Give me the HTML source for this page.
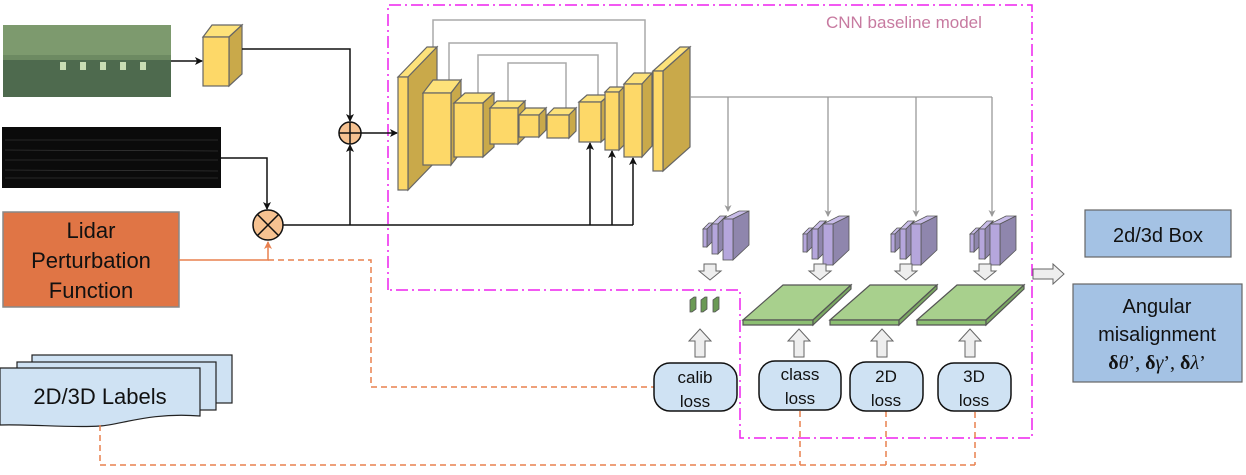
<!DOCTYPE html>
<html><head><meta charset="utf-8"><style>
html,body{margin:0;padding:0;background:#fff;}
svg{display:block;font-family:"Liberation Sans",Arial,sans-serif;}
</style></head><body>
<svg width="1246" height="475" viewBox="0 0 1246 475" xmlns="http://www.w3.org/2000/svg">
<defs>
<marker id="ab" markerWidth="8" markerHeight="8" refX="7" refY="4" orient="auto" markerUnits="userSpaceOnUse"><path d="M0,0 L8,4 L0,8 L2,4 z" fill="#111"/></marker>
<marker id="ag" markerWidth="7" markerHeight="7" refX="6" refY="3.5" orient="auto" markerUnits="userSpaceOnUse"><path d="M0,0 L7,3.5 L0,7 L2,3.5 z" fill="#999"/></marker>
<marker id="ao" markerWidth="8" markerHeight="8" refX="7" refY="4" orient="auto" markerUnits="userSpaceOnUse"><path d="M0,0 L8,4 L0,8 L2,4 z" fill="#e8804f"/></marker>
<g id="purp">
 <polygon points="703,229 709,223 713,223 707,229" fill="#c8bce8" stroke="#555" stroke-width="0.8"/>
 <polygon points="707,229 713,223 713,241 707,247" fill="#8f86ad" stroke="#555" stroke-width="0.8"/>
 <rect x="703" y="229" width="4" height="18" fill="#b5a6dc" stroke="#555" stroke-width="0.8"/>
 <polygon points="712,224 720,216 726,216 718,224" fill="#c8bce8" stroke="#555" stroke-width="0.8"/>
 <polygon points="718,224 726,216 726,246 718,254" fill="#8f86ad" stroke="#555" stroke-width="0.8"/>
 <rect x="712" y="224" width="6" height="30" fill="#b5a6dc" stroke="#555" stroke-width="0.8"/>
 <polygon points="723,219 739,211 749,211 733,219" fill="#c8bce8" stroke="#555" stroke-width="0.8"/>
 <polygon points="733,219 749,211 749,245 733,260" fill="#8f86ad" stroke="#555" stroke-width="0.8"/>
 <rect x="723" y="219" width="10" height="41" fill="#b5a6dc" stroke="#555" stroke-width="0.8"/>
</g>
<path id="darr" d="M-6,0 h12 v7 h5 l-11,9 l-11,-9 h5 z" fill="#eee" stroke="#666" stroke-width="1"/>
<path id="uarr" d="M-5,28 v-16 h-6 l11,-12 l11,12 h-6 v16 z" fill="#eee" stroke="#666" stroke-width="1"/>
</defs>

<!-- magenta boundary -->
<path d="M388,290 V5 H1032 V438 H740 V290 Z" fill="none" stroke="#ee22ee" stroke-width="1.5" stroke-dasharray="12,4,2,4"/>
<text x="826" y="28" font-size="17" fill="#c77aa0">CNN baseline model</text>

<!-- camera image -->
<rect x="3" y="25" width="168" height="72" fill="#6d8a62"/>
<rect x="3" y="25" width="168" height="30" fill="#7d9a6e"/>
<rect x="3" y="60" width="168" height="37" fill="#4e6a4e"/>
<g fill="#c8dcb4"><rect x="60" y="62" width="6" height="8"/><rect x="80" y="62" width="6" height="8"/><rect x="100" y="62" width="6" height="8"/><rect x="120" y="62" width="6" height="8"/><rect x="140" y="62" width="6" height="8"/></g>
<!-- lidar image -->
<rect x="2" y="127" width="219" height="61" fill="#0b0b0b"/>
<g stroke="#444" stroke-width="0.6"><line x1="5" y1="140" x2="218" y2="140"/><line x1="5" y1="150" x2="218" y2="151"/><line x1="5" y1="160" x2="218" y2="160"/><line x1="5" y1="170" x2="218" y2="171"/><line x1="5" y1="178" x2="218" y2="178"/></g>

<!-- small yellow block -->
<polygon points="203,37 212,25 242,25 229,37" fill="#fde27a" stroke="#666" stroke-width="1.2"/>
<polygon points="229,37 242,25 242,74 229,86" fill="#c9a94a" stroke="#666" stroke-width="1.2"/>
<rect x="203" y="37" width="26" height="49" fill="#fdd868" stroke="#666" stroke-width="1.2"/>
<line x1="171" y1="61" x2="202" y2="61" stroke="#111" stroke-width="1.5" marker-end="url(#ab)"/>
<polyline points="242,49 350,49 350,121" fill="none" stroke="#111" stroke-width="1.5" marker-end="url(#ab)"/>
<polyline points="221,158 267,158 267,209" fill="none" stroke="#111" stroke-width="1.5" marker-end="url(#ab)"/>
<line x1="350" y1="225" x2="350" y2="145" stroke="#111" stroke-width="1.5" marker-end="url(#ab)"/>
<line x1="283" y1="225" x2="633" y2="225" stroke="#111" stroke-width="1.5"/>
<line x1="361" y1="133" x2="397" y2="133" stroke="#111" stroke-width="1.5" marker-end="url(#ab)"/>
<line x1="590" y1="225" x2="590" y2="143" stroke="#111" stroke-width="1.5" marker-end="url(#ab)"/>
<line x1="612" y1="225" x2="612" y2="151" stroke="#111" stroke-width="1.5" marker-end="url(#ab)"/>
<line x1="633" y1="225" x2="633" y2="158" stroke="#111" stroke-width="1.5" marker-end="url(#ab)"/>
<!-- circles -->
<circle cx="350" cy="133" r="11" fill="#f6c291" stroke="#111" stroke-width="1.5"/>
<path d="M339,133 H361 M350,122 V144" stroke="#111" stroke-width="1.5"/>
<circle cx="268" cy="225" r="15" fill="#f6c291" stroke="#111" stroke-width="1.5"/>
<path d="M257.4,214.4 L278.6,235.6 M278.6,214.4 L257.4,235.6" stroke="#111" stroke-width="1.5"/>

<!-- lidar perturbation box -->
<rect x="3" y="212" width="176" height="95" fill="#e07545" stroke="#888" stroke-width="1.5"/>
<text x="91" y="238" font-size="22" text-anchor="middle" fill="#111">Lidar</text>
<text x="91" y="268" font-size="22" text-anchor="middle" fill="#111">Perturbation</text>
<text x="91" y="298" font-size="22" text-anchor="middle" fill="#111">Function</text>
<polyline points="179,260 268,260 268,242" fill="none" stroke="#e8804f" stroke-width="1.5" marker-end="url(#ao)"/>
<polyline points="268,260 371,260 371,387 655,387" fill="none" stroke="#e8804f" stroke-width="1.5" stroke-dasharray="6,4"/>

<!-- labels docs -->
<rect x="32" y="355" width="200" height="48" fill="#cfe2f3" stroke="#222" stroke-width="1.2"/>
<rect x="17" y="362" width="199" height="48" fill="#cfe2f3" stroke="#222" stroke-width="1.2"/>
<path d="M0,368 H200 V416 C150,412 120,425 100,426 C70,428 30,424 0,425 Z" fill="#cfe2f3" stroke="#222" stroke-width="1.2"/>
<text x="100" y="404" font-size="22" text-anchor="middle" fill="#111">2D/3D Labels</text>
<polyline points="100,425 100,465 975,465" fill="none" stroke="#e8804f" stroke-width="1.5" stroke-dasharray="6,4"/>
<line x1="800" y1="411" x2="800" y2="465" stroke="#e8804f" stroke-width="1.5" stroke-dasharray="6,4"/>
<line x1="886" y1="411" x2="886" y2="465" stroke="#e8804f" stroke-width="1.5" stroke-dasharray="6,4"/>
<line x1="975" y1="412" x2="975" y2="465" stroke="#e8804f" stroke-width="1.5" stroke-dasharray="6,4"/>

<!-- skip connections -->
<g fill="none" stroke="#aaa" stroke-width="1.5">
<polyline points="433,47 433,20 645,20 645,73"/>
<polyline points="449,80 449,43 617,43 617,87"/>
<polyline points="478,93 478,55 598,55 598,95"/>
<polyline points="508,101 508,63 566,63 566,108"/>
</g>

<!-- unet blocks -->
<g stroke="#666" stroke-width="1.2">
<polygon points="398,77 427,47 437,47 408,77" fill="#fde27a"/><polygon points="408,77 437,47 437,160 408,190" fill="#c9a94a"/><rect x="398" y="77" width="10" height="113" fill="#fdd868"/>
<polygon points="423,93 433,80 461,80 451,93" fill="#fde27a"/><polygon points="451,93 461,80 461,152 451,165" fill="#c9a94a"/><rect x="423" y="93" width="28" height="72" fill="#fdd868"/>
<polygon points="454,103 465,93 494,93 483,103" fill="#fde27a"/><polygon points="483,103 494,93 494,147 483,157" fill="#c9a94a"/><rect x="454" y="103" width="29" height="54" fill="#fdd868"/>
<polygon points="490,108 497,101 525,101 518,108" fill="#fde27a"/><polygon points="518,108 525,101 525,137 518,144" fill="#c9a94a"/><rect x="490" y="108" width="28" height="36" fill="#fdd868"/>
<polygon points="519,115 526,108 546,108 539,115" fill="#fde27a"/><polygon points="539,115 546,108 546,130 539,137" fill="#c9a94a"/><rect x="519" y="115" width="20" height="22" fill="#fdd868"/>
<polygon points="547,115 554,108 576,108 569,115" fill="#fde27a"/><polygon points="569,115 576,108 576,131 569,138" fill="#c9a94a"/><rect x="547" y="115" width="22" height="23" fill="#fdd868"/>
<polygon points="579,102 587,95 609,95 601,102" fill="#fde27a"/><polygon points="601,102 609,95 609,135 601,142" fill="#c9a94a"/><rect x="579" y="102" width="22" height="40" fill="#fdd868"/>
<polygon points="605,92 610,87 624,87 619,92" fill="#fde27a"/><polygon points="619,92 624,87 624,145 619,150" fill="#c9a94a"/><rect x="605" y="92" width="14" height="58" fill="#fdd868"/>
<polygon points="624,84 634,73 652,73 642,84" fill="#fde27a"/><polygon points="642,84 652,73 652,146 642,157" fill="#c9a94a"/><rect x="624" y="84" width="18" height="73" fill="#fdd868"/>
<polygon points="653,71 680,47 690,47 663,71" fill="#fde27a"/><polygon points="663,71 690,47 690,147 663,171" fill="#c9a94a"/><rect x="653" y="71" width="10" height="100" fill="#fdd868"/>
</g>
<!-- head connectors -->
<g fill="none" stroke="#999" stroke-width="1.3">
<line x1="690" y1="97" x2="992" y2="97"/>
<line x1="728" y1="97" x2="728" y2="211" marker-end="url(#ag)"/>
<line x1="828" y1="97" x2="828" y2="216" marker-end="url(#ag)"/>
<line x1="916" y1="97" x2="916" y2="216" marker-end="url(#ag)"/>
<line x1="992" y1="97" x2="992" y2="216" marker-end="url(#ag)"/>
</g>
<use href="#purp"/>
<use href="#purp" transform="translate(100,5)"/>
<use href="#purp" transform="translate(188,5)"/>
<use href="#purp" transform="translate(267,5)"/>

<use href="#darr" transform="translate(710,264)"/>
<use href="#darr" transform="translate(820,264)"/>
<use href="#darr" transform="translate(906,264)"/>
<use href="#darr" transform="translate(985,264)"/>

<!-- green plates -->
<g stroke="#555" stroke-width="1.2">
<polygon points="743,320 783,285 851,285 813,320" fill="#a8d08d"/><polygon points="743,320 813,320 813,325 743,325" fill="#8cbf72"/><polygon points="813,320 851,285 851,289 813,325" fill="#7aa862"/>
<polygon points="830,320 870,285 937,285 899,320" fill="#a8d08d"/><polygon points="830,320 899,320 899,325 830,325" fill="#8cbf72"/><polygon points="899,320 937,285 937,289 899,325" fill="#7aa862"/>
<polygon points="917,320 957,285 1024,285 986,320" fill="#a8d08d"/><polygon points="917,320 986,320 986,325 917,325" fill="#8cbf72"/><polygon points="986,320 1024,285 1024,289 986,325" fill="#7aa862"/>
</g>
<g stroke="#555" stroke-width="0.8" fill="#6b9a55">
<polygon points="690,300 694,297 696,297 696,309 692,312 690,312"/>
<polygon points="701,300 705,297 707,297 707,309 703,312 701,312"/>
<polygon points="713,300 717,297 719,297 719,309 715,312 713,312"/>
</g>

<use href="#uarr" transform="translate(700,329)"/>
<use href="#uarr" transform="translate(799,329)"/>
<use href="#uarr" transform="translate(882,329)"/>
<use href="#uarr" transform="translate(970,329)"/>

<!-- loss boxes -->
<g fill="#cfe2f3" stroke="#111" stroke-width="1.5">
<rect x="654" y="363" width="83" height="48" rx="16"/>
<rect x="759" y="361" width="82" height="49" rx="16"/>
<rect x="850" y="362" width="73" height="49" rx="16"/>
<rect x="938" y="363" width="73" height="48" rx="16"/>
</g>
<g font-size="17" text-anchor="middle" fill="#111">
<text x="695" y="383">calib</text><text x="695" y="407">loss</text>
<text x="800" y="380">class</text><text x="800" y="404">loss</text>
<text x="886" y="382">2D</text><text x="886" y="406">loss</text>
<text x="974" y="382">3D</text><text x="974" y="406">loss</text>
</g>

<!-- output arrow -->
<path d="M1033,269 h20 v-5 l11,10 l-11,10 v-5 h-20 z" fill="#eee" stroke="#666" stroke-width="1"/>

<!-- right boxes -->
<rect x="1085" y="210" width="146" height="47" fill="#a4c2e4" stroke="#666" stroke-width="1.2"/>
<text x="1158" y="242" font-size="20" text-anchor="middle" fill="#111">2d/3d Box</text>
<rect x="1073" y="284" width="169" height="98" fill="#a4c2e4" stroke="#666" stroke-width="1.2"/>
<text x="1157" y="313" font-size="20" text-anchor="middle" fill="#111">Angular</text>
<text x="1157" y="341" font-size="20" text-anchor="middle" fill="#111">misalignment</text>
<text x="1157" y="369" font-size="20" text-anchor="middle" fill="#111" font-family="Liberation Serif, serif"><tspan font-weight="bold">δ</tspan><tspan font-style="italic">θ</tspan>’, <tspan font-weight="bold">δ</tspan><tspan font-style="italic">γ</tspan>’, <tspan font-weight="bold">δ</tspan><tspan font-style="italic">λ</tspan>’</text>
</svg>
</body></html>
